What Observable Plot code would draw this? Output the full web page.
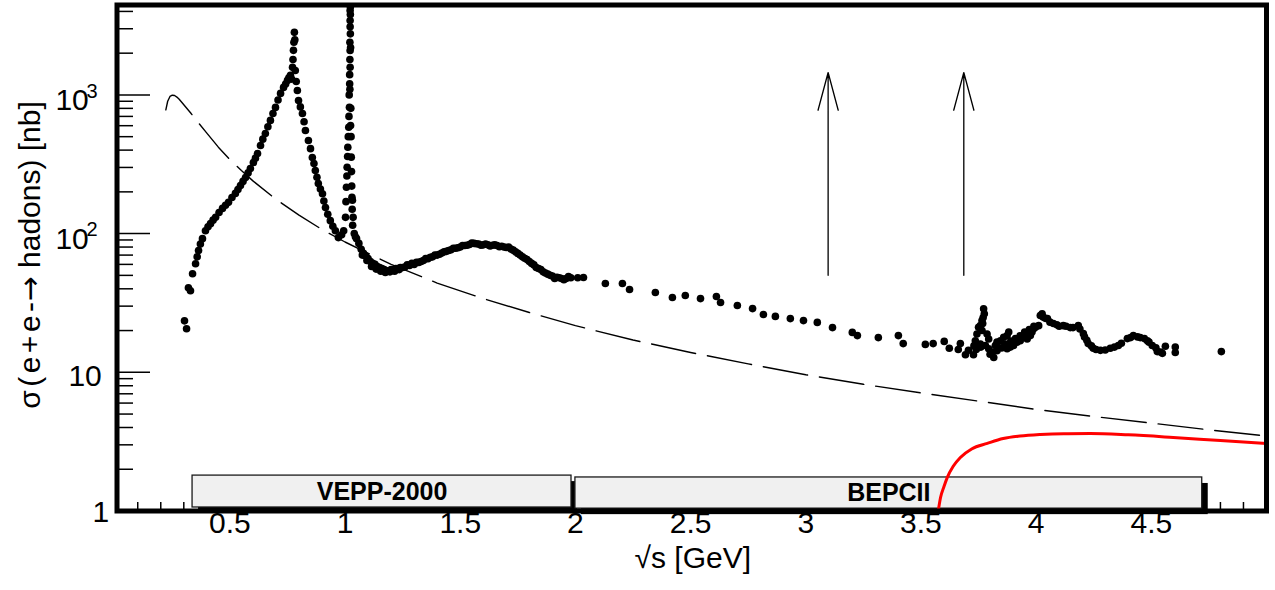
<!DOCTYPE html>
<html><head><meta charset="utf-8">
<script src="https://cdn.jsdelivr.net/npm/d3@7"></script>
<script src="https://cdn.jsdelivr.net/npm/@observablehq/plot@0.6"></script>
<style>
html,body{margin:0;padding:0;background:#fff;}
#chart{width:1275px;height:590px;}
</style></head><body><div id="chart"></div>
<script>
// ---- measured cross-section points: sqrt(s) [GeV], sigma [nb]
const pointX = [
 0.303,0.312,0.320,0.329,0.338,0.351,0.358,0.364,0.372,0.381,0.394,0.405,0.416,0.427,0.438,0.453,0.468,0.481,0.494,0.509,
 0.524,0.535,0.546,0.557,0.568,0.579,0.589,0.602,0.611,0.620,0.633,0.643,0.654,0.665,0.676,0.687,0.698,0.709,0.720,0.733,
 0.742,0.750,0.756,0.763,0.768,0.772,0.774,0.776,0.778,0.780,0.782,0.784,0.788,0.793,0.798,0.806,0.815,0.822,0.828,0.841,
 0.850,0.858,0.865,0.871,0.878,0.884,0.893,0.902,0.908,0.915,0.925,0.936,0.947,0.958,0.971,0.985,
 0.994,1.002,1.006,1.009,1.012,1.016,1.019,1.020,1.022,1.022,1.023,1.022,1.022,1.024,1.027,1.030,1.032,1.035,1.040,1.045,
 1.004,1.008,1.011,1.014,1.017,1.018,1.020,1.021,1.021,1.022,1.023,1.023,1.024,1.021,1.025,1.026,1.028,1.029,1.031,1.033,
 1.05,1.06,1.07,1.08,1.09,1.10,1.11,1.12,1.13,1.14,1.15,1.16,1.17,1.18,1.19,1.20,1.21,1.22,1.23,1.24,1.25,1.26,1.28,1.30,
 1.32,1.34,1.36,1.38,1.40,1.42,1.44,1.46,1.48,1.50,1.52,1.54,1.56,1.58,1.60,1.62,1.64,1.66,1.68,1.70,1.72,1.74,1.76,1.78,
 1.80,1.82,1.84,1.86,1.88,1.90,1.92,1.94,1.96,1.98,2.01,
 1.075,1.095,1.115,1.135,1.155,1.175,1.195,1.215,1.235,1.27,1.29,1.31,1.33,1.35,1.37,1.39,1.41,1.43,1.45,1.47,1.49,1.51,
 1.53,1.55,1.57,1.59,1.61,1.63,1.65,1.67,1.69,1.71,1.73,1.75,1.77,1.79,1.81,1.83,1.85,1.87,1.89,1.91,1.93,1.95,1.97,
 2.035,2.130,2.204,2.235,2.347,2.421,2.477,2.543,2.612,2.630,2.703,2.769,2.816,2.868,2.933,2.990,3.050,3.116,3.202,3.224,
 3.315,3.402,3.423,3.519,3.553,3.601,3.623,3.671,3.662,3.693,3.728,3.706,
 3.772,3.775,3.765,3.758,3.750,3.765,3.787,3.794,3.743,3.736,3.758,3.780,3.794,3.809,3.816,3.823,3.830,3.845,3.859,3.874,
 3.881,3.866,3.874,3.888,3.902,3.917,3.931,3.939,3.953,3.961,3.975,3.982,3.989,3.997,4.011,4.018,4.026,3.770,3.768,
 3.73,3.74,3.76,3.80,3.83,3.85,3.87,3.89,3.91,3.93,3.95,3.97,3.99,
 4.03,4.04,4.049,4.06,4.075,4.09,4.10,4.118,4.13,4.148,4.16,4.183,4.19,4.205,4.21,4.22,4.226,4.24,4.248,4.26,4.279,4.30,
 4.322,4.34,4.357,4.37,4.396,4.41,4.422,4.44,4.452,4.47,4.483,4.49,4.504,4.52,4.526,4.54,4.548,4.561,4.604,4.604,4.804
];
const pointY = [
 23.5,20.6,40.7,38.7,51.4,60.7,68,75.4,84,92,105,112,118,125,131,142,152,160,168,182,
 195,208,222,238,254,274,295,326,350,378,432,480,527,590,655,735,813,920,1026,1133,
 1200,1273,1330,1384,1300,1581,1800,2096,2400,2826,2500,1500,1250,1077,912,820,735,640,554,469,
 410,354,320,285,255,230,210,194,172,154,138,124,113,105,93.6,98,
 105,131,216,301,420,585,815,1202,1585,2090,2757,3436,4061,601,356,183,174,131,100,95,
 170,260,360,500,700,1000,1400,1800,2400,3100,3800,4300,2200,1100,800,500,280,220,150,115,
 92,85,77,72,69,66,63,61,60,58,57,56,55,54,54,55,55,56,56,57,57,57.5,59,60,
 62,64,66,68,70,72.5,74.5,76.5,78.5,80,82,83.5,85,84,83,83,82.5,82,81,79.5,77.5,74,70,66.5,
 63,59.5,56,53,51,49.5,48.5,47.5,47.5,48,48,
 70,64,58,55.5,53.5,52.5,53,53.5,55,59.5,61,62,63,66,67.5,70,71,74,75.5,78.5,79,82,
 82.5,85.5,84.5,82.5,84,81.5,83,80.5,80,80,76,72,68,65,61,57,55,52,50,47.5,48,46.5,49,
 48.2,43.7,43.7,39.5,37.6,34.6,35.8,34.0,35.2,31.9,30.3,28.8,26.1,25.3,24.4,23.6,22.9,21.0,19.4,18.4,
 17.8,18.4,16.1,15.9,16.1,16.7,14.9,16.1,14.6,13.4,13.4,14.4,
 28.7,26.4,23.6,21.7,21.1,20.0,18.9,17.4,18.9,16.9,16.0,15.6,14.8,14.0,12.8,15.6,16.5,16.9,17.9,18.4,
 19.5,16.0,14.8,15.2,15.6,16.5,16.9,17.9,18.9,17.4,18.4,19.5,20.6,21.1,21.7,25.7,26.4,24.8,22.5,
 15.5,14.6,15.2,13.5,14.3,15,15.8,16.8,17.5,18.3,19.5,20.3,21.5,
 25,24.5,24.4,23,22.5,22,21.5,21.7,21.5,21.0,21,21.7,20.5,19.0,18,17,16.1,15.5,14.9,14.6,14.4,14.5,
 14.9,15.2,15.6,16.2,17.5,17.8,18.4,18,17.8,17.5,16.9,16.5,15.6,15,14.1,14,13.7,15.4,15.2,13.9,14.1
];

// ---- dashed curve (point-like e+e- -> mu+mu-)
const muX = [0.222,0.23,0.24,0.25,0.26,0.27,0.28,0.30,0.33,0.36,0.40,0.45,0.50,0.55,0.60,0.70,0.80,0.90,1.0,1.2,1.4,1.6,1.8,2.0,2.25,2.5,2.75,3.0,3.25,3.5,3.75,4.0,4.25,4.5,4.75,5.0];
const muY = [780,900,975,995,990,965,930,850,740,640,530,420,342,285,240,177,136,107,87,60,44,34,27,21.7,17.1,13.9,11.5,9.6,8.2,7.1,6.2,5.4,4.8,4.3,3.85,3.47];

// ---- red curve (tau pair threshold)
const tauX = [3.575,3.585,3.60,3.614,3.64,3.671,3.72,3.788,3.857,3.93,4.018,4.12,4.235,4.4,4.595,4.8,5.0];
const tauY = [1.0,1.25,1.5,1.74,2.1,2.43,2.8,3.07,3.33,3.47,3.56,3.61,3.62,3.54,3.39,3.22,3.07];

// ---- narrow resonances (J/psi, psi(2S)) marked by arrows
const resonanceMass = [3.097, 3.686];
const arrowFrom = 50, arrowTo = 1450;

// ---- collider energy ranges
const colliderName = ["VEPP-2000", "BEPCII"];
const colliderLow = [0.338, 2.0];
const colliderHigh = [1.983, 4.721];
const colliderBoxLow = [1.06, 1.04];
const colliderBoxHigh = [1.80, 1.745];

// ---- ticks and titles
const xTickLabels = [0.5, 1, 1.5, 2, 2.5, 3, 3.5, 4, 4.5];
const xMinorTicks = d3.range(1, 50).map(i => i / 10);
const yPlainLabels = [1, 10];
const yPowerLabels = [100, 1000];
const yPowerExp = ["2", "3"];
const yMajorTicks = [1, 10, 100, 1000];
const yMinorTicks = [2,3,4,5,6,7,8,9,20,30,40,50,60,70,80,90,200,300,400,500,600,700,800,900,2000,3000,4000];
const xTitle = "√s [GeV]";
const yTitleParts = ["σ(e+e-", "→", " hadons) [nb]"];

const points = pointX.map((x, i) => ({x, y: pointY[i]}));
const mu = muX.map((x, i) => ({x, y: muY[i]}));
const tau = tauX.map((x, i) => ({x, y: tauY[i]}));
const boxes = colliderName.map((name, i) => ({name, x1: colliderLow[i], x2: colliderHigh[i], y1: colliderBoxLow[i], y2: colliderBoxHigh[i]}));
const powers = yPowerLabels.map((v, i) => ({v, e: yPowerExp[i]}));

const W = 1275, H = 590, ML = 116.5, MR = 9, MT = 4.5, MB = 79.5;
const PW = W - ML - MR, PH = H - MT - MB;
const font = "'Liberation Sans', Arial, Helvetica, sans-serif";

const chart = Plot.plot({
  width: W, height: H,
  marginLeft: ML, marginRight: MR, marginTop: MT, marginBottom: MB,
  x: {domain: [0.01, 5], axis: null},
  y: {type: "log", domain: [1, 4450], axis: null},
  style: {background: "white", fontFamily: font, color: "black"},
  marks: [
    Plot.tickY(yMinorTicks, {y: d => d, stroke: "black", strokeWidth: 1.5, insetRight: PW - 16.5}),
    Plot.tickY(yMajorTicks, {y: d => d, stroke: "black", strokeWidth: 1.5, insetRight: PW - 33.5}),
    Plot.tickX(xMinorTicks, {x: d => d, stroke: "black", strokeWidth: 1.5, insetTop: PH - 8.5}),
    Plot.tickX(xTickLabels, {x: d => d, stroke: "black", strokeWidth: 1.5, insetTop: PH - 16}),
    Plot.rect(boxes, {x1: "x1", x2: "x2", y1: "y1", y2: "y2", fill: "black", dx: 6, dy: 6}),
    Plot.rect(boxes, {x1: "x1", x2: "x2", y1: "y1", y2: "y2", fill: "#f0f0f0", stroke: "#1a1a1a", strokeWidth: 1.3}),
    Plot.text(boxes, {x: d => (d.x1 + d.x2) / 2, y: d => Math.sqrt(d.y1 * d.y2), text: "name", fontSize: 25, fontWeight: "bold", fill: "black"}),
    Plot.line(mu, {x: "x", y: "y", stroke: "black", strokeWidth: 1.4, strokeDasharray: "45,12"}),
    Plot.line(tau, {x: "x", y: "y", stroke: "#ff0000", strokeWidth: 3, curve: "monotone-x"}),
    Plot.arrow(resonanceMass, {x1: d => d, x2: d => d, y1: () => arrowFrom, y2: () => arrowTo, stroke: "black", strokeWidth: 1.3, headLength: 45, headAngle: 30}),
    Plot.dot(points, {x: "x", y: "y", r: 3.8, fill: "black", stroke: "none"}),
    Plot.frame({stroke: "black", strokeWidth: 5}),
    Plot.text(xTickLabels, {x: d => d, frameAnchor: "bottom", dy: 21.6, text: d => String(d), fontSize: 30, fill: "black"}),
    Plot.text(yPlainLabels.filter(d => d === 1), {y: d => d, frameAnchor: "left", dx: -7.7, dy: 1.5, textAnchor: "end", text: d => String(d), fontSize: 30, fill: "black"}),
    Plot.text(yPlainLabels.filter(d => d !== 1), {y: d => d, frameAnchor: "left", dx: -15.2, dy: 3.6, textAnchor: "end", text: d => String(d), fontSize: 30, fill: "black"}),
    Plot.text(powers, {y: "v", frameAnchor: "left", dx: -28.2, dy: 5.7, textAnchor: "end", text: () => "10", fontSize: 30, fill: "black"}),
    Plot.text(powers, {y: "v", frameAnchor: "left", dx: -30.5, dy: -3.7, textAnchor: "start", text: "e", fontSize: 20, fill: "black"}),
    Plot.text([xTitle], {frameAnchor: "bottom", textAnchor: "middle", dx: 1, dy: 56.6, fontSize: 30, fill: "black"}),
    Plot.text([yTitleParts.join("")], {frameAnchor: "left", textAnchor: "middle", dx: -86.5, dy: -3, rotate: -90, fontSize: 30, fill: "black"})
  ]
});
document.getElementById("chart").appendChild(chart);

// give the arrow in the y title a larger glyph and the first part wider spacing, as in the reference
d3.select(chart).selectAll("text").filter(function () { return this.textContent === yTitleParts.join(""); })
  .each(function () {
    const t = d3.select(this);
    t.text(null);
    t.append("tspan").attr("letter-spacing", "3.5px").text(yTitleParts[0]);
    t.append("tspan").attr("font-family", "'DejaVu Sans'").attr("dx", -3).text(yTitleParts[1]);
    t.append("tspan").text(yTitleParts[2]);
  });
</script></body></html>
